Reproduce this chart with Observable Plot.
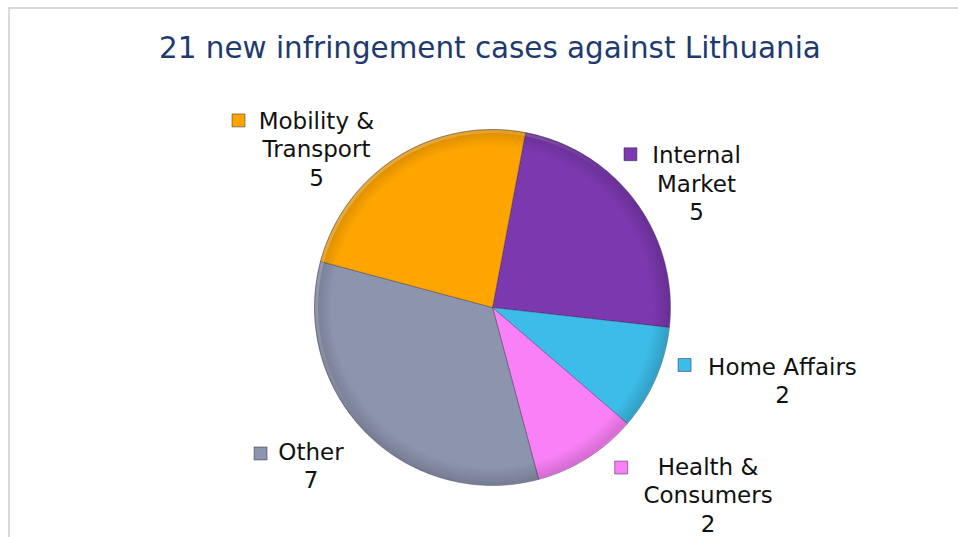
<!DOCTYPE html>
<html><head><meta charset="utf-8">
<script src="https://cdn.jsdelivr.net/npm/d3@7"></script>
<script src="https://cdn.jsdelivr.net/npm/@observablehq/plot@0.6"></script>
<style>
html,body{margin:0;padding:0;background:#fff;width:958px;height:537px;overflow:hidden;font-family:"DejaVu Sans",Verdana,sans-serif;}
#frame{position:absolute;left:8px;top:7px;width:1000px;height:600px;border-top:2px solid #d9d9d9;border-left:2px solid #d9d9d9;}
#title{position:absolute;left:11px;top:34px;width:958px;text-align:center;font-size:29.4px;line-height:29px;color:#1f3a6e;white-space:nowrap;}
#chart{position:absolute;left:0;top:80px;}
</style></head><body>
<div id="frame"></div>
<div id="title"></div>
<div id="chart"></div>
<script>
// ---- data ----
const titleText = "21 new infringement cases against Lithuania";
const categories = ["Internal Market", "Home Affairs", "Health & Consumers", "Other", "Mobility & Transport"];
const values = [5, 2, 2, 7, 5];
const labelLines = [["Internal", "Market"], ["Home Affairs"], ["Health &", "Consumers"], ["Other"], ["Mobility &", "Transport"]];
const colors = ["#7b38af", "#3cbde9", "#fa80f8", "#8c94ae", "#ffa500"];

// ---- layout (style) ----
const W = 958, H = 457, cx = 492, cy = 227, R = 178;
const rotationDeg = 10.7;
const fontSize = 23, lineGap = 28.6;
// label first-baseline anchor and marker centre, in pie-radius units from the centre (y down)
const labelLayout = {
  "Internal Market":      {tx: 1.146, ty: -0.811, mx: 0.775, my: -0.861},
  "Home Affairs":         {tx: 1.629, ty: 0.378,  mx: 1.079, my: 0.323},
  "Health & Consumers":   {tx: 1.211, ty: 0.940,  mx: 0.723, my: 0.899},
  "Other":                {tx: -1.020, ty: 0.856, mx: -1.303, my: 0.820},
  "Mobility & Transport": {tx: -0.989, ty: -1.004, mx: -1.427, my: -1.051}
};

document.getElementById("title").textContent = titleText;

const rows = categories.map((c, i) => ({cat: c, value: values[i], lines: labelLines[i]}));
const rot = rotationDeg * Math.PI / 180;
const arcs = d3.pie().sort(null).value(d => d.value).startAngle(rot).endAngle(rot + 2 * Math.PI)(rows);

// slice outlines: centre -> arc -> centre
const slicePts = [];
for (const a of arcs) {
  slicePts.push({cat: a.data.cat, x: 0, y: 0});
  const n = Math.max(2, Math.ceil((a.endAngle - a.startAngle) / (Math.PI / 180)));
  for (let k = 0; k <= n; k++) {
    const t = a.startAngle + (a.endAngle - a.startAngle) * k / n;
    slicePts.push({cat: a.data.cat, x: Math.sin(t), y: -Math.cos(t)});
  }
  slicePts.push({cat: a.data.cat, x: 0, y: 0});
}

// label text rows
const textRows = [];
for (const r of rows) {
  const L = labelLayout[r.cat];
  const lines = [...r.lines, String(r.value)];
  lines.forEach((s, i) => textRows.push({cat: r.cat, text: s, x: L.tx, y: L.ty + i * lineGap / R}));
}
const markerRows = rows.map(r => ({cat: r.cat, x: labelLayout[r.cat].mx, y: labelLayout[r.cat].my}));

// soft bevel overlay on the pie rim (drawn through the x/y scales)
function bevel(index, scales) {
  const g = d3.create("svg:g");
  const defs = g.append("defs");
  const rg = defs.append("radialGradient").attr("id", "rimShade");
  rg.append("stop").attr("offset", "0.9").attr("stop-color", "#000").attr("stop-opacity", 0);
  rg.append("stop").attr("offset", "1").attr("stop-color", "#000").attr("stop-opacity", 0.16);
  const lg = defs.append("linearGradient").attr("id", "rimLight").attr("x1", 0).attr("y1", 0).attr("x2", 1).attr("y2", 1);
  lg.append("stop").attr("offset", "0").attr("stop-color", "#fff").attr("stop-opacity", 0.35);
  lg.append("stop").attr("offset", "0.5").attr("stop-color", "#fff").attr("stop-opacity", 0);
  const x0 = scales.x(0), y0 = scales.y(0), r = scales.x(1) - scales.x(0);
  g.append("circle").attr("cx", x0).attr("cy", y0).attr("r", r).attr("fill", "url(#rimShade)");
  g.append("circle").attr("cx", x0).attr("cy", y0).attr("r", r - 2.5).attr("fill", "none")
    .attr("stroke", "url(#rimLight)").attr("stroke-width", 3);
  return g.node();
}

const chart = Plot.plot({
  width: W, height: H, margin: 0,
  style: {fontFamily: "'DejaVu Sans', Verdana, sans-serif", background: "transparent", overflow: "visible"},
  x: {domain: [-1, 1], range: [cx - R, cx + R], axis: null},
  y: {domain: [-1, 1], range: [cy - R, cy + R], axis: null},
  color: {domain: categories, range: colors},
  marks: [
    Plot.line(slicePts, {x: "x", y: "y", z: "cat", fill: "cat", stroke: "rgba(50,40,70,0.4)", strokeWidth: 1, strokeLinejoin: "round"}),
    bevel,
    Plot.dot(markerRows, {x: "x", y: "y", symbol: "square", r: 7.3, fill: "cat", stroke: "rgba(40,40,60,0.5)", strokeWidth: 1}),
    Plot.text(textRows, {x: "x", y: "y", text: "text", fontSize: fontSize, fill: "#111", textAnchor: "middle", lineAnchor: "bottom"})
  ]
});
document.getElementById("chart").appendChild(chart);
</script>
</body></html>
